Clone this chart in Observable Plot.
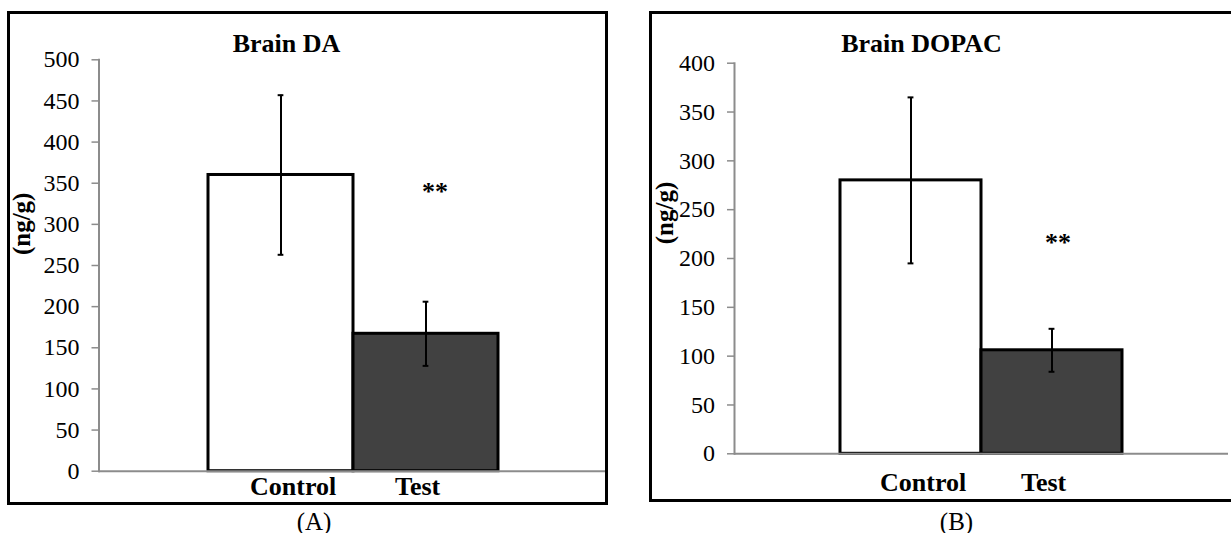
<!DOCTYPE html>
<html><head><meta charset="utf-8">
<script src="https://cdn.jsdelivr.net/npm/d3@7"></script>
<script src="https://cdn.jsdelivr.net/npm/@observablehq/plot@0.6"></script>
<style>
html,body{margin:0;padding:0;background:#fff;}
#root{position:relative;width:1231px;height:533px;overflow:hidden;}
#root svg, #root svg text{font-family:"Liberation Serif","Times New Roman",serif !important;}
.panel{position:absolute;top:0;}
.box{position:absolute;border:3px solid #000;box-sizing:border-box;pointer-events:none;}
</style></head><body><div id="root"></div>
<script>
// ---- data ----
const groups = ["Control", "Test"];
const daMeans = [360, 167];
const daErrors = [97, 39];
const dopacMeans = [280, 106];
const dopacErrors = [85, 22];
const daTicks = [0, 50, 100, 150, 200, 250, 300, 350, 400, 450, 500];
const dopacTicks = [0, 50, 100, 150, 200, 250, 300, 350, 400];
const titles = ["Brain DA", "Brain DOPAC"];
const yLabel = "(ng/g)";
const captions = ["(A)", "(B)"];
const sigMark = "**";
const sigValues = [340, 216];

// ---- layout / style ----
const FONT = "Liberation Serif, Times New Roman, serif";
const GRAY = "#8c8c8c";
const panels = [
  {left: 0, width: 630, ml: 98.5, mr: 23, mt: 59.3, mb: 62.3, yMax: 500, ticks: daTicks,
   means: daMeans, errs: daErrors, title: titles[0], caption: captions[0], sig: sigValues[0],
   titleX: 286, ylabX: 21.8, ylabY: 223.3, capX: 313.5, xPad: 5.8, sigDx: 9,
   box: {left: 6.8, top: 10.5, width: 601.7, height: 494.3}},
  {left: 630, width: 601, ml: 104, mr: 3, mt: 62.7, mb: 79.7, yMax: 400, ticks: dopacTicks,
   means: dopacMeans, errs: dopacErrors, title: titles[1], caption: captions[1], sig: sigValues[1],
   titleX: 291, ylabX: 34.5, ylabY: 212.5, capX: 326, xPad: 18.9, sigDx: 6,
   box: {left: 648.5, top: 10.5, width: 600, height: 491}}
];
const H = 533;
const root = document.getElementById("root");

panels.forEach(p => {
  const data = groups.map((g, i) => ({group: g, mean: p.means[i], err: p.errs[i]}));
  const frameW = p.width - p.ml - p.mr;
  const bw = frameW / (2 + 2 * 0.75);
  const capInset = (bw - 6) / 2;
  const at = (x, baseline, fs) => ({frameAnchor: "top-left", lineAnchor: "middle", dx: x - p.ml, dy: baseline - 0.32 * fs - p.mt});

  const chart = Plot.plot({
    width: p.width, height: H,
    marginLeft: p.ml, marginRight: p.mr, marginTop: p.mt, marginBottom: p.mb,
    style: {fontFamily: FONT, fontSize: "24px", color: "black", background: "transparent", overflow: "visible"},
    x: {domain: groups, paddingInner: 0, paddingOuter: 0.75},
    y: {domain: [0, p.yMax]},
    color: {domain: groups, range: ["#ffffff", "#414141"]},
    marks: [
      Plot.barY(data, {x: "group", y: "mean", fill: "group", stroke: "black", strokeWidth: 3}),
      Plot.ruleX(data, {x: "group", y1: d => d.mean - d.err, y2: d => d.mean + d.err, stroke: "black", strokeWidth: 2}),
      Plot.tickY(data, {x: "group", y: d => d.mean + d.err, insetLeft: capInset, insetRight: capInset, stroke: "black", strokeWidth: 2}),
      Plot.tickY(data, {x: "group", y: d => d.mean - d.err, insetLeft: capInset, insetRight: capInset, stroke: "black", strokeWidth: 2}),
      Plot.frame({anchor: "left", stroke: GRAY, strokeWidth: 2}),
      Plot.ruleY([0], {stroke: GRAY, strokeWidth: 2}),
      Plot.axisY(p.ticks, {tickSize: 7, tickPadding: 12.5, stroke: GRAY, strokeWidth: 1.5, fill: "black", fontSize: 24, fontFamily: FONT, label: null}),
      Plot.axisX({tickSize: 0, tickPadding: p.xPad, textAnchor: "start", dx: -31, fontSize: 26, fontWeight: "bold", fontFamily: FONT, fill: "black", label: null}),
      Plot.text([{group: "Test", v: p.sig}], {x: "group", y: "v", text: () => sigMark, dx: p.sigDx, lineAnchor: "middle", fontSize: 26, fontWeight: "bold", fontFamily: FONT, fill: "black"}),
      Plot.text([p.title], {...at(p.titleX, 51.7, 26), textAnchor: "middle", fontSize: 26, fontWeight: "bold", fontFamily: FONT, fill: "black"}),
      Plot.text([yLabel], {frameAnchor: "top-left", lineAnchor: "middle", dx: p.ylabX - p.ml, dy: p.ylabY - p.mt, rotate: -90, textAnchor: "middle", fontSize: 25, fontWeight: "bold", fontFamily: FONT, fill: "black"}),
      Plot.text([p.caption], {...at(p.capX, 529, 25), textAnchor: "middle", fontSize: 25, fontFamily: FONT, fill: "black"})
    ]
  });
  const wrap = document.createElement("div");
  wrap.className = "panel";
  wrap.style.left = p.left + "px";
  wrap.appendChild(chart);
  root.appendChild(wrap);
});

panels.forEach(p => {
  const b = document.createElement("div");
  b.className = "box";
  b.style.left = p.box.left + "px";
  b.style.top = p.box.top + "px";
  b.style.width = p.box.width + "px";
  b.style.height = p.box.height + "px";
  root.appendChild(b);
});
</script>
</body></html>
